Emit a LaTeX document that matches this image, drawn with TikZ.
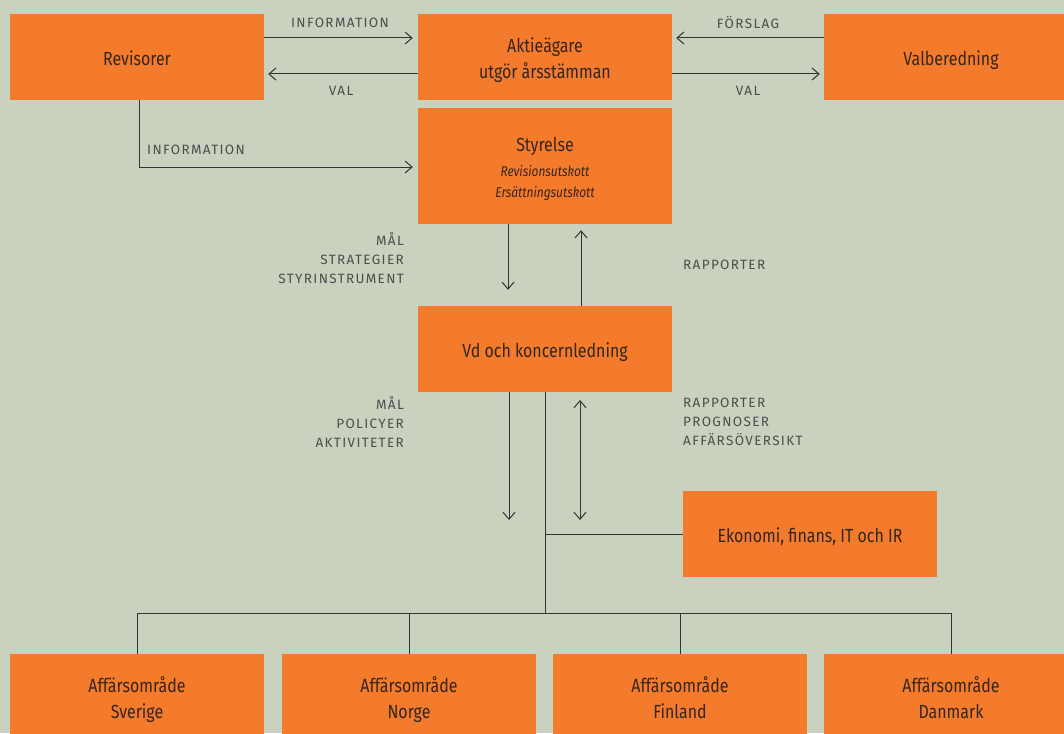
\documentclass[tikz,border=0pt]{standalone}
\usepackage{fontspec}
\setmainfont{Fira Sans}
\newfontfamily\boxfont[FakeStretch=0.84]{Fira Sans}
\newfontfamily\lblfont[LetterSpace=10]{Fira Sans}
\usetikzlibrary{arrows.meta}
\definecolor{bg}{HTML}{C8D2BE}
\definecolor{org}{HTML}{F47A2C}
\definecolor{txt}{HTML}{33261C}
\definecolor{lbl}{HTML}{4D4D4D}
\definecolor{ln}{HTML}{333333}
\newcommand\bxtop{\rule{0pt}{22pt}}
\newcommand\bxbot{\rule[-5pt]{0pt}{5pt}}
\begin{document}
\begin{tikzpicture}[x=1pt,y=-1pt,
 box/.style={fill=org, draw=none, minimum width=254pt, minimum height=86pt, inner sep=0pt, align=center, font=\boxfont\fontsize{19}{26}\selectfont, text=txt},
 lbl/.style={font=\lblfont\fontsize{13.5}{19}\selectfont, text=lbl, inner sep=0pt},
 conn/.style={draw=ln, line width=1pt},
 tip/.tip={Straight Barb[length=7pt,width=12pt]},
 arr/.style={conn, -tip},
]
\fill[bg] (0,0) rectangle (1064,733);
\useasboundingbox (0,0) rectangle (1064,733);
\clip (0,0) rectangle (1064,733);

\node[box] (rev) at (137,57) {\bxtop Revisorer\bxbot};
\node[box] (akt) at (545,57) {\bxtop Aktieägare\\utgör årsstämman\bxbot};
\node[box] (val) at (951,57) {\bxtop Valberedning\bxbot};
\node[box, minimum height=116pt] (sty) at (545,166) {\bxtop Styrelse\\[-1pt]{\itshape\fontsize{14.2}{21}\selectfont Revisionsutskott}\\[-5pt]{\itshape\fontsize{14.2}{21}\selectfont Ersättningsutskott}\bxbot};
\node[box] (vd) at (545,349) {\bxtop Vd och koncernledning\bxbot};
\node[box] (eko) at (810,534) {\bxtop Ekonomi, finans, IT och IR\bxbot};
\node[box] (b1) at (137,697) {\bxtop Affärsområde\\Sverige\bxbot};
\node[box] (b2) at (409,697) {\bxtop Affärsområde\\Norge\bxbot};
\node[box] (b3) at (680,697) {\bxtop Affärsområde\\Finland\bxbot};
\node[box] (b4) at (951,697) {\bxtop Affärsområde\\Danmark\bxbot};

% top connectors
\draw[arr, shorten >=5pt] (rev.east |- 0,38) -- (akt.west |- 0,38);
\draw[arr, shorten >=4pt] (akt.west |- 0,74) -- (rev.east |- 0,74);
\draw[arr, shorten >=4pt] (val.west |- 0,38) -- (akt.east |- 0,38);
\draw[arr, shorten >=4pt] (akt.east |- 0,74) -- (val.west |- 0,74);
\draw[arr, shorten >=5pt] (rev.south -| 139,0) |- (sty.west |- 0,167);

\node[lbl] (l1) at (340,23) {INFORMATION};
\node[lbl] (l2) at (341,91) {VAL};
\node[lbl] (l3) at (748,23) {FÖRSLAG};
\node[lbl] (l4) at (748,91) {VAL};
\node[lbl, anchor=west] (l5) at (147,150) {INFORMATION};

% Styrelse <-> Vd
\draw[arr, shorten >=16pt] (sty.south -| 508,0) -- (vd.north -| 508,0);
\draw[arr, shorten >=6pt] (vd.north -| 581,0) -- (sty.south -| 581,0);
\node[lbl, align=right, anchor=east] (l6) at (404,258) {MÅL\\STRATEGIER\\STYRINSTRUMENT};
\node[lbl, anchor=west] (l7) at (683,265) {RAPPORTER};

% Vd down
\coordinate (d1) at (509,520);
\coordinate (u1) at (580,400);
\coordinate (u2) at (580,520);
\coordinate (bus) at (545,613);
\draw[arr] (vd.south -| d1) -- (d1);
\draw[conn, tip-tip] (u1) -- (u2);
\node[lbl, align=right, anchor=east] (l8) at (404,422) {MÅL\\POLICYER\\AKTIVITETER};
\node[lbl, align=left, anchor=west] (l9) at (683,422) {RAPPORTER\\PROGNOSER\\AFFÄRSÖVERSIKT};

\draw[conn] (vd.south) -- (bus);
\draw[conn] (vd.south |- eko.west) -- (eko.west);
\draw[conn] (b1.north) -- (b1.north |- bus) -- (b4.north |- bus) -- (b4.north);
\draw[conn] (b2.north) -- (b2.north |- bus);
\draw[conn] (b3.north) -- (b3.north |- bus);
\end{tikzpicture}
\end{document}
